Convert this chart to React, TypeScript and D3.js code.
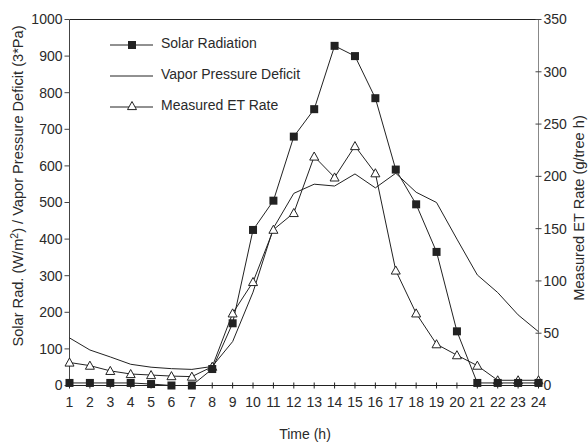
import React from "react";
import * as d3 from "d3";

const hours = d3.range(1, 25);
const solarRad = [7, 7, 7, 7, 4, 0, 0, 45, 170, 425, 505, 680, 755, 928, 900, 785, 590, 495, 365, 148, 7, 7, 7, 7];
const vpd = [130, 97, 78, 58, 50, 46, 44, 52, 120, 255, 430, 525, 550, 545, 578, 540, 580, 528, 500, 400, 302, 254, 193, 147];
const etRate = [22, 19, 14, 11, 10, 9, 8.5, 18, 69, 99, 149, 165, 219, 199, 229, 203, 110, 69, 39.5, 29, 19, 5, 5, 5];
const leftTicks = [0, 100, 200, 300, 400, 500, 600, 700, 800, 900, 1000];
const rightTicks = [0, 50, 100, 150, 200, 250, 300, 350];

const W = 588, H = 446;
const FONT = "'Liberation Sans', Arial, sans-serif";
const TXT = "#2a2a2a";

export default function App() {
  const x = d3.scaleLinear().domain([1, 24]).range([69.5, 538.5]);
  const yL = d3.scaleLinear().domain([0, 1000]).range([385.5, 19.5]);
  const yR = d3.scaleLinear().domain([0, 350]).range([385.5, 19.5]);
  const x0 = x(1), x1 = x(24), yb = yL(0), yt = yL(1000);

  const lineL = d3.line<number>().x((_, i) => x(hours[i])).y((d) => yL(d));
  const lineR = d3.line<number>().x((_, i) => x(hours[i])).y((d) => yR(d));

  const tri = (cx: number, cy: number, s = 9) =>
    `M${cx},${cy - s * 0.5}L${cx + s * 0.5},${cy + s * 0.4}L${cx - s * 0.5},${cy + s * 0.4}Z`;

  const legend = [
    { label: "Solar Radiation", y: 45, kind: "sq" },
    { label: "Vapor Pressure Deficit", y: 76, kind: "none" },
    { label: "Measured ET Rate", y: 107, kind: "tri" },
  ];

  return (
    <svg width={W} height={H} style={{ position: "absolute", left: 0, top: 0, background: "#fff" }}
      fontFamily={FONT}>
      <rect width={W} height={H} fill="#fff" />
      {/* top border */}
      <line x1={x0} x2={x1} y1={yt} y2={yt} stroke="#222" strokeWidth={1} />
      {/* left axis */}
      <line x1={x0} x2={x0} y1={yt} y2={yb} stroke="#444" strokeWidth={1} />
      {leftTicks.map((t) => (
        <g key={"l" + t}>
          <line x1={x0 - 5} x2={x0} y1={yL(t)} y2={yL(t)} stroke="#444" />
          <text x={x0 - 7} y={yL(t)} dy="0.35em" textAnchor="end" fontSize={14} fill={TXT}>{t}</text>
        </g>
      ))}
      {/* right axis */}
      <line x1={x1} x2={x1} y1={yt} y2={yb} stroke="#888" strokeWidth={1} />
      {rightTicks.map((t) => (
        <g key={"r" + t}>
          <line x1={x1 - 3} x2={x1 + 3} y1={yR(t)} y2={yR(t)} stroke="#444" />
          <text x={x1 + 5} y={yR(t)} dy="0.35em" textAnchor="start" fontSize={14} fill={TXT}>{t}</text>
        </g>
      ))}
      {/* bottom axis */}
      <line x1={x0} x2={x1} y1={yb} y2={yb} stroke="#222" strokeWidth={1} />
      {hours.map((h) => (
        <g key={"x" + h}>
          <line x1={x(h)} x2={x(h)} y1={yb - 3} y2={yb + 3} stroke="#222" />
          <text x={x(h)} y={407} textAnchor="middle" fontSize={14} fill={TXT}>{h}</text>
        </g>
      ))}
      {/* axis titles */}
      <text x={305} y={439} textAnchor="middle" fontSize={14} fill={TXT}>Time (h)</text>
      <text transform={`translate(23,186) rotate(-90)`} textAnchor="middle" fontSize={14.6} fill={TXT}>
        Solar Rad. (W/m<tspan dy={-5} fontSize={10.5}>2</tspan><tspan dy={5}>) / Vapor Pressure Deficit (3*Pa)</tspan>
      </text>
      <text transform={`translate(584,208) rotate(-90)`} textAnchor="middle" fontSize={14.6} fill={TXT}>
        Measured ET Rate (g/tree h)
      </text>

      {/* series */}
      <path d={lineL(vpd) || ""} fill="none" stroke="#222" strokeWidth={1} />
      <path d={lineR(etRate) || ""} fill="none" stroke="#222" strokeWidth={1} />
      <path d={lineL(solarRad) || ""} fill="none" stroke="#222" strokeWidth={1} />
      {etRate.map((v, i) => (
        <path key={"t" + i} d={tri(x(hours[i]), yR(v))} fill="#fff" stroke="#222" strokeWidth={1} />
      ))}
      {solarRad.map((v, i) => (
        <rect key={"s" + i} x={x(hours[i]) - 4} y={yL(v) - 4} width={8} height={8} fill="#222" />
      ))}

      {/* legend */}
      {legend.map((l) => (
        <g key={l.label}>
          <line x1={110} x2={153} y1={l.y} y2={l.y} stroke="#222" />
          {l.kind === "sq" && <rect x={128} y={l.y - 4} width={8} height={8} fill="#222" />}
          {l.kind === "tri" && <path d={tri(132, l.y - 1)} fill="#fff" stroke="#222" />}
          <text x={161} y={l.y - 2} dy="0.35em" fontSize={14} fill={TXT}>{l.label}</text>
        </g>
      ))}
    </svg>
  );
}
